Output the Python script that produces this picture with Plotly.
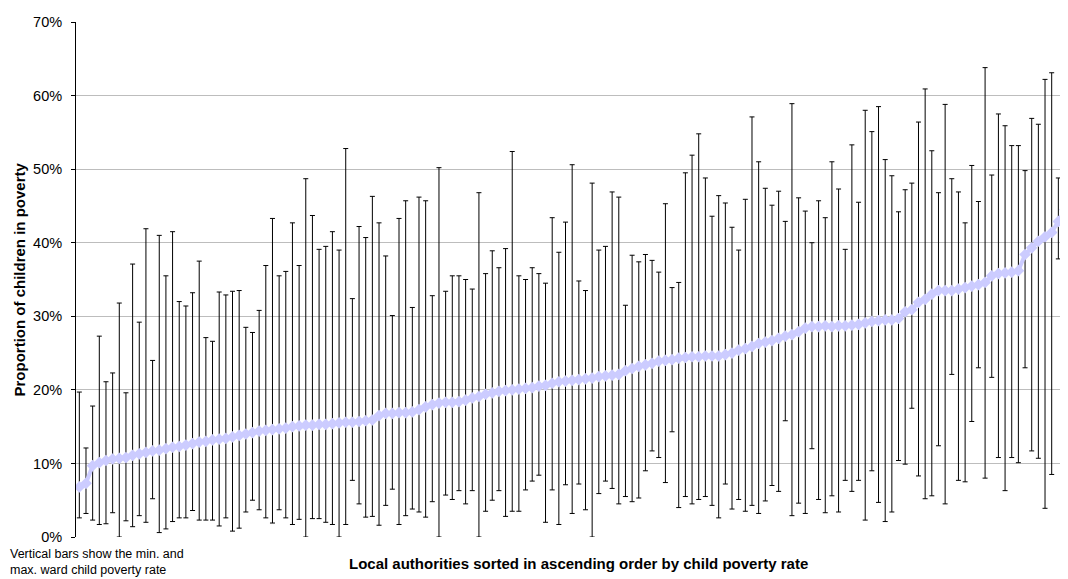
import plotly.graph_objects as go

# Child poverty rate per local authority, sorted ascending (percent) ----------
rate = [
    6.8, 7.3, 9.7, 10.1, 10.4, 10.6, 10.7, 10.8, 11.1, 11.3,
    11.5, 11.7, 11.8, 12.0, 12.2, 12.3, 12.5, 12.7, 12.9, 13.0,
    13.2, 13.3, 13.4, 13.6, 13.8, 14.0, 14.2, 14.4, 14.5, 14.6,
    14.7, 14.8, 15.0, 15.1, 15.2, 15.2, 15.3, 15.3, 15.4, 15.5,
    15.6, 15.6, 15.7, 15.8, 15.9, 16.5, 16.8, 16.8, 16.9, 16.9,
    17.0, 17.3, 17.7, 18.0, 18.2, 18.3, 18.3, 18.4, 18.6, 18.9,
    19.1, 19.4, 19.6, 19.8, 19.9, 20.0, 20.1, 20.2, 20.3, 20.5,
    20.6, 20.9, 21.1, 21.2, 21.3, 21.4, 21.5, 21.6, 21.8, 21.9,
    22.0, 22.1, 22.6, 22.9, 23.2, 23.4, 23.6, 23.9, 24.0, 24.1,
    24.3, 24.4, 24.5, 24.5, 24.6, 24.6, 24.6, 24.8, 25.0, 25.4,
    25.6, 25.9, 26.3, 26.5, 26.7, 27.0, 27.3, 27.5, 27.9, 28.4,
    28.6, 28.6, 28.7, 28.6, 28.7, 28.7, 28.8, 28.9, 29.1, 29.3,
    29.4, 29.5, 29.5, 29.7, 30.6, 30.9, 31.9, 32.3, 33.0, 33.5,
    33.5, 33.5, 33.7, 33.9, 34.1, 34.3, 34.6, 35.5, 35.8, 35.9,
    36.0, 36.2, 38.4, 39.3, 40.2, 40.8, 41.4, 42.9, 44.5, 46.5,
]
# Lowest ward rate in each authority ------------------------------------------
ward_min = [
    2.6, 3.2, 2.3, 1.7, 1.8, 3.3, 0.0, 2.2, 1.4, 2.9,
    2.0, 5.2, 0.6, 1.1, 2.1, 2.6, 2.6, 3.6, 2.3, 2.3,
    2.3, 1.5, 2.6, 0.8, 1.2, 3.4, 5.0, 3.7, 2.6, 1.9,
    3.7, 2.6, 1.7, 2.4, 0.0, 2.5, 2.5, 2.0, 1.7, 0.0,
    1.7, 7.7, 4.5, 2.7, 2.8, 1.6, 4.3, 6.5, 1.7, 2.9,
    3.8, 3.4, 2.7, 4.8, 0.0, 5.7, 5.1, 6.3, 4.5, 6.3,
    0.0, 3.5, 5.0, 6.3, 2.8, 3.5, 3.5, 6.4, 7.6, 8.4,
    2.0, 6.4, 1.7, 7.1, 3.2, 7.2, 3.7, 0.0, 5.9, 7.6,
    6.6, 4.5, 5.5, 4.8, 5.3, 9.0, 11.7, 10.8, 7.4, 14.3,
    4.0, 5.5, 4.5, 5.1, 5.5, 4.3, 2.6, 7.2, 3.8, 5.1,
    3.5, 4.3, 3.2, 4.9, 7.0, 6.2, 15.8, 2.9, 4.6, 3.2,
    12.0, 5.1, 3.3, 5.6, 3.4, 7.7, 6.2, 7.7, 2.3, 9.0,
    4.7, 2.1, 3.4, 10.4, 9.9, 17.5, 8.3, 5.2, 5.6, 12.4,
    4.5, 22.1, 7.7, 7.5, 15.7, 23.0, 8.0, 21.7, 10.8, 6.3,
    10.8, 10.1, 23.0, 11.7, 10.7, 3.9, 8.5, 37.8, 29.0, 30.2,
]
# Highest ward rate in each authority -----------------------------------------
ward_max = [
    19.7, 12.1, 17.8, 27.3, 21.1, 22.3, 31.8, 19.6, 37.1, 29.2,
    41.9, 24.0, 41.0, 35.5, 41.5, 32.0, 31.4, 33.2, 37.5, 27.1,
    26.6, 33.3, 32.9, 33.4, 33.5, 28.5, 27.8, 30.8, 36.9, 43.3,
    35.5, 36.1, 42.7, 36.9, 48.7, 43.7, 39.1, 39.5, 41.5, 39.0,
    52.8, 32.4, 42.2, 40.7, 46.3, 42.7, 38.2, 30.1, 43.3, 45.7,
    31.2, 46.2, 45.7, 32.8, 50.2, 33.4, 35.5, 35.5, 35.0, 33.7,
    46.8, 35.8, 38.9, 36.6, 39.2, 52.4, 35.5, 35.0, 36.6, 35.8,
    34.5, 43.4, 38.7, 42.8, 50.6, 34.8, 33.5, 48.1, 39.0, 39.5,
    46.9, 46.2, 31.5, 38.3, 37.4, 38.4, 37.6, 36.0, 45.3, 33.9,
    34.6, 49.5, 51.9, 54.8, 48.8, 43.6, 46.4, 45.4, 42.1, 39.0,
    45.9, 57.1, 51.0, 47.4, 45.1, 47.0, 42.9, 58.9, 46.1, 44.3,
    40.0, 45.7, 43.4, 51.0, 47.3, 39.1, 53.3, 45.5, 58.0, 55.1,
    58.5, 51.3, 49.1, 44.2, 47.2, 48.1, 56.4, 60.9, 52.5, 46.8,
    58.8, 48.7, 46.9, 42.7, 50.5, 45.6, 63.8, 49.2, 57.5, 55.9,
    53.2, 53.2, 49.8, 56.9, 56.1, 62.2, 63.1, 48.8, 54.3, 56.6,
]
authority = list(range(1, len(rate) + 1))
y_ticks = [0, 10, 20, 30, 40, 50, 60, 70]
y_tick_labels = ["0%", "10%", "20%", "30%", "40%", "50%", "60%", "70%"]

FONT = "Liberation Sans, Arial, sans-serif"
# page body has an 8px margin each side; the figure has to fit inside it
OFF = 8
(W, H) = (1068 - 2 * OFF, 579 - OFF)
(L, R, T, B) = (76 - OFF, 0, 22 - OFF, 579 - 537)
pw = W - L - R
ph = H - T - B
# page pixel -> paper coords
def px(x):
    return (x - OFF - L) / pw
def py(y):
    return (OFF + T + ph - y) / ph

err_up = [hi - m for (hi, m) in zip(ward_max, rate)]
err_dn = [m - lo for (lo, m) in zip(ward_min, rate)]

fig = go.Figure()
fig.add_trace(go.Scatter(
    x=authority, y=rate,
    mode="lines+markers",
    line=dict(color="#CCCCFF", width=4),
    marker=dict(symbol="diamond", size=9, color="#CCCCFF", line=dict(width=0)),
    error_y=dict(
        type="data", symmetric=False, array=err_up, arrayminus=err_dn,
        color="#000000", thickness=1, width=2.5
    ),
    showlegend=False,
    hoverinfo="skip"
))

# the chart is cropped on the right: the last authorities sit past the edge
step = 6.66  # px per authority in the original
fig.update_xaxes(
    range=[0.5, 0.5 + pw / step], automargin=False,
    showgrid=False, zeroline=False, showline=False,
    showticklabels=False, ticks=""
)
fig.update_yaxes(
    range=[0, 70], tickmode="array", tickvals=y_ticks, ticktext=y_tick_labels,
    automargin=False,
    showgrid=True, gridcolor="#BDBDBD", gridwidth=1,
    zeroline=False, showline=True, linecolor="#000000", linewidth=1,
    ticks="outside", ticklen=4, tickcolor="#000000", tickwidth=1,
    ticklabelstandoff=6,
    tickfont=dict(family=FONT, size=14.5, color="#000000")
)

fig.add_annotation(
    text="<b>Proportion of children in poverty</b>",
    xref="paper", yref="paper", x=px(19), y=0.5,
    xanchor="center", yanchor="middle", textangle=-90, showarrow=False,
    font=dict(family=FONT, size=15, color="#000000")
)
fig.add_annotation(
    text="<b>Local authorities sorted in ascending order by child poverty rate</b>",
    xref="paper", yref="paper", x=px(578), y=py(563),
    xanchor="center", yanchor="middle", showarrow=False,
    font=dict(family=FONT, size=15, color="#000000")
)
fig.add_annotation(
    text="Vertical bars show the min. and<br>max. ward child poverty rate",
    xref="paper", yref="paper", x=px(OFF), y=py(545),
    xanchor="left", yanchor="top", align="left", showarrow=False,
    font=dict(family=FONT, size=12.5, color="#000000")
)

fig.update_layout(
    width=W, height=H,
    margin=dict(l=L, r=R, t=T, b=B, pad=0),
    paper_bgcolor="#FFFFFF", plot_bgcolor="#FFFFFF",
    font=dict(family=FONT, color="#000000")
)

fig.write_html("out.html")
